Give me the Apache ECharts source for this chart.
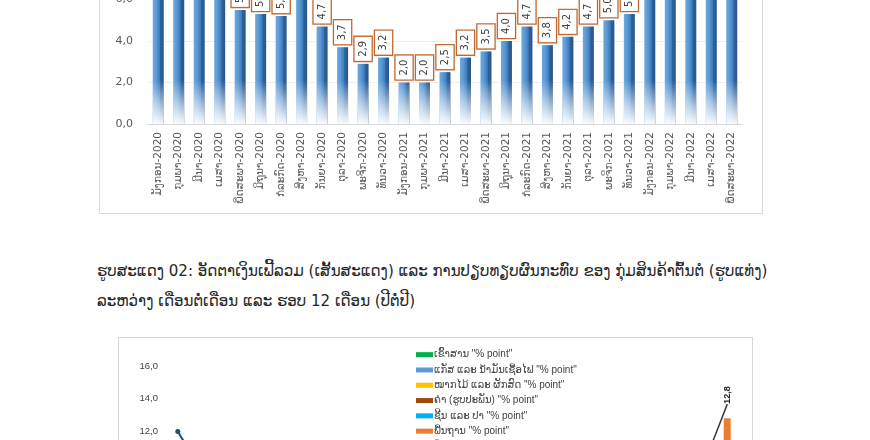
<!DOCTYPE html>
<html>
<head>
<meta charset="utf-8">
<script src="https://cdn.jsdelivr.net/npm/echarts@6/dist/echarts.min.js"></script>
<style>
  html, body { margin:0; padding:0; width:870px; height:440px; overflow:hidden; background:#fff; }
  .abs { position:absolute; }
  .frame { position:absolute; box-sizing:border-box; border:1px solid #d9d9d9; pointer-events:none; }
  .cap { position:absolute; left:97px; white-space:nowrap; font-family:"DejaVu Sans", sans-serif; color:#262626; line-height:30px; }
</style>
</head>
<body>
<div id="c1" class="abs" style="left:99px; top:-220px; width:663px; height:433px;"></div>
<div class="frame" style="left:99px; top:-220px; width:664px; height:434px;"></div>
<div id="cap1" class="cap" style="top:256px;">ຮູບສະແດງ 02: ອັດຕາເງິນເຟີ້ລວມ (ເສັ້ນສະແດງ) ແລະ ການປຽບທຽບຜົນກະທົບ ຂອງ ກຸ່ມສິນຄ້າຕົ້ນຕໍ (ຮູບແທ່ງ)</div>
<div id="cap2" class="cap" style="top:286px;">ລະຫວ່າງ ເດືອນຕໍ່ເດືອນ ແລະ ຮອບ 12 ເດືອນ (ປີຕໍ່ປີ)</div>
<div id="c2" class="abs" style="left:118px; top:337px; width:634px; height:320px;"></div>
<div class="frame" style="left:118px; top:337px; width:635px; height:320px;"></div>
<script>
// ---------- data ----------
const categories = [
  'ມັງກອນ-2020','ກຸມພາ-2020','ມີນາ-2020','ເມສາ-2020','ພຶດສະພາ-2020','ມິຖຸນາ-2020',
  'ກໍລະກົດ-2020','ສິງຫາ-2020','ກັນຍາ-2020','ຕຸລາ-2020','ພະຈິກ-2020','ທັນວາ-2020',
  'ມັງກອນ-2021','ກຸມພາ-2021','ມີນາ-2021','ເມສາ-2021','ພຶດສະພາ-2021','ມິຖຸນາ-2021',
  'ກໍລະກົດ-2021','ສິງຫາ-2021','ກັນຍາ-2021','ຕຸລາ-2021','ພະຈິກ-2021','ທັນວາ-2021',
  'ມັງກອນ-2022','ກຸມພາ-2022','ມີນາ-2022','ເມສາ-2022','ພຶດສະພາ-2022'
];
// year-on-year inflation (%), chart 1 bars and chart 2 total line
const inflation = [
  6.4, 6.5, 6.2, 6.1, 5.5, 5.3, 5.2, 6.0, 4.7, 3.7, 2.9, 3.2,
  2.0, 2.0, 2.5, 3.2, 3.5, 4.0, 4.7, 3.8, 4.2, 4.7, 5.0, 5.3,
  7.3, 8.5, 8.6, 9.9, 12.8
];
const yTicks1 = { min: 0, max: 14, interval: 2 };
const yTicks2 = { min: 0, max: 16, interval: 2 };

// chart 2: contributions (% point); only the visible (last) stack could be read
const riceContrib   = [null,null,null,null,null,null,null,null,null,null,null,null,null,null,null,null,null,null,null,null,null,null,null,null,null,null,null,null,0.4];
const fuelContrib   = [null,null,null,null,null,null,null,null,null,null,null,null,null,null,null,null,null,null,null,null,null,null,null,null,null,null,null,null,3.9];
const fruitContrib  = [null,null,null,null,null,null,null,null,null,null,null,null,null,null,null,null,null,null,null,null,null,null,null,null,null,null,null,null,1.1];
const goldContrib   = [null,null,null,null,null,null,null,null,null,null,null,null,null,null,null,null,null,null,null,null,null,null,null,null,null,null,null,null,0.2];
const meatContrib   = [null,null,null,null,null,null,null,null,null,null,null,null,null,null,null,null,null,null,null,null,null,null,null,null,null,null,null,null,2.0];
const coreContrib   = [null,null,null,null,null,null,null,null,null,null,null,null,null,null,null,null,null,null,null,null,null,null,null,null,null,null,null,null,5.2];
const otherContrib  = [null,null,null,null,null,null,null,null,null,null,null,null,null,null,null,null,null,null,null,null,null,null,null,null,null,null,null,null,null];
const monthlyLine   = [12.0,10.0,null,null,null,null,null,null,null,null,null,null,null,null,null,null,null,null,null,null,null,null,null,null,null,null,null,null,null];
const legendNames = [
  'ເຂົ້າສານ "% point"',
  'ແກັສ ແລະ ນ້ຳມັນເຊື້ອໄຟ "% point"',
  'ໝາກໄມ້ ແລະ ຜັກສົດ "% point"',
  'ຄຳ (ຮູບປະພັນ) "% point"',
  'ຊີ້ນ ແລະ ປາ "% point"',
  'ພື້ນຖານ "% point"',
  'ອື່ນໆ "% point"'
];
const legendColors = ['#00b050','#5b9bd5','#ffc000','#9e480e','#00b0f0','#ed7d31','#a5a5a5'];

const fmt = v => v.toFixed(1).replace('.', ',');

// ---------- caption fit ----------
(function(){
  const c1 = document.getElementById('cap1'), c2 = document.getElementById('cap2');
  c1.style.fontSize = '16px';
  const w = c1.getBoundingClientRect().width;
  const fs = 16 * 671 / w;
  c1.style.fontSize = fs + 'px';
  c2.style.fontSize = fs + 'px';
})();

// ---------- chart 1 ----------
const ch1 = echarts.init(document.getElementById('c1'), null, { renderer: 'canvas' });
const barGrad = { type:'linear', x:0, y:0, x2:1, y2:0, colorStops:[
  {offset:0, color:'#6fa8dc'}, {offset:0.3, color:'#5b9bd5'}, {offset:0.62, color:'#3d7cc0'},
  {offset:0.7, color:'#2e6299'}, {offset:1, color:'#2a5588'} ] };
// fade towards the floor (pixel coordinates of this chart's canvas)
const fadeGrad = { type:'linear', x:0, y:300, x2:0, y2:343, global:true, colorStops:[
  {offset:0, color:'rgba(255,255,255,0)'}, {offset:0.55, color:'rgba(255,255,255,0.55)'}, {offset:1, color:'rgba(255,255,255,0.95)'} ] };
ch1.setOption({
  animation:false,
  grid:{ left:49, right:20, top:53.5, bottom:89 },
  xAxis:{ type:'category', data:categories,
    axisLine:{ lineStyle:{ color:'#d9d9d9' } }, axisTick:{ show:false },
    axisLabel:{ interval:0, rotate:90, margin:8, fontSize:10.5, color:'#595959', fontFamily:'DejaVu Sans' } },
  yAxis:{ type:'value', min:yTicks1.min, max:yTicks1.max, interval:yTicks1.interval,
    axisLine:{ show:false }, axisTick:{ show:false },
    splitLine:{ lineStyle:{ color:'#eeeeee' } },
    axisLabel:{ formatter:fmt, fontSize:11, color:'#595959', margin:15, fontFamily:'DejaVu Sans' } },
  series:[
    { type:'bar', data:inflation, barWidth:11, itemStyle:{ color:barGrad },
      label:{ show:true, position:'top', rotate:90, align:'left', verticalAlign:'middle', distance:3,
        formatter:p => fmt(p.value), fontSize:10, color:'#404040', fontFamily:'DejaVu Sans',
        backgroundColor:'#fff', borderColor:'#c0692e', borderWidth:1.3, padding:[4,4,3,4] } },
    { type:'bar', data:inflation, barWidth:11, barGap:'-100%', silent:true, itemStyle:{ color:fadeGrad }, z:3 }
  ]
});

// ---------- chart 2 ----------
const ch2 = echarts.init(document.getElementById('c2'), null, { renderer: 'canvas' });
const stacks = [riceContrib, fuelContrib, fruitContrib, goldContrib, meatContrib, coreContrib, otherContrib];
const series2 = stacks.map((d, i) => ({ name:legendNames[i], type:'bar', stack:'c', data:d, barWidth:7,
  itemStyle:{ color:legendColors[i] } }));
series2.push({ name:'ເດືອນຕໍ່ເດືອນ', type:'line', data:monthlyLine, symbol:'circle', symbolSize:5,
  lineStyle:{ color:'#1f4e79', width:2 }, itemStyle:{ color:'#1f4e79' } });
series2.push({ name:'ອັດຕາເງິນເຟີ້ລວມ', type:'line', data:inflation, yAxisIndex:1, symbol:'circle', symbolSize:1,
  lineStyle:{ color:'#3a3a3a', width:1.5 }, itemStyle:{ color:'#3a3a3a' },
  label:{ show:true, position:'top', rotate:90, align:'left', verticalAlign:'middle', distance:0,
    formatter:p => p.dataIndex === inflation.length - 1 ? fmt(p.value) : '',
    fontSize:9, fontWeight:'bold', color:'#222', fontFamily:'Liberation Sans' } });
ch2.setOption({
  animation:false,
  legend:{ data:legendNames, orient:'vertical', left:293, top:5, itemWidth:17, itemHeight:5, itemGap:0,
    icon:'rect', textStyle:{ fontSize:10, color:'#404040', lineHeight:15.3, padding:[0,0,0,-4], fontFamily:'Liberation Sans, DejaVu Sans' } },
  grid:{ left:50, right:15, top:29, bottom:29.4 },
  xAxis:{ type:'category', data:categories, axisLine:{ lineStyle:{ color:'#d9d9d9' } }, axisTick:{ show:false }, axisLabel:{ show:false } },
  yAxis:[
    { type:'value', min:yTicks2.min, max:yTicks2.max, interval:yTicks2.interval, splitLine:{ show:false },
      axisLine:{ show:false }, axisTick:{ show:false },
      axisLabel:{ formatter:fmt, fontSize:9.5, color:'#404040', margin:10, fontFamily:'Liberation Sans' } },
    { type:'value', min:0, max:15, show:false, splitLine:{ show:false } }
  ],
  series:series2
});
</script>
</body>
</html>
